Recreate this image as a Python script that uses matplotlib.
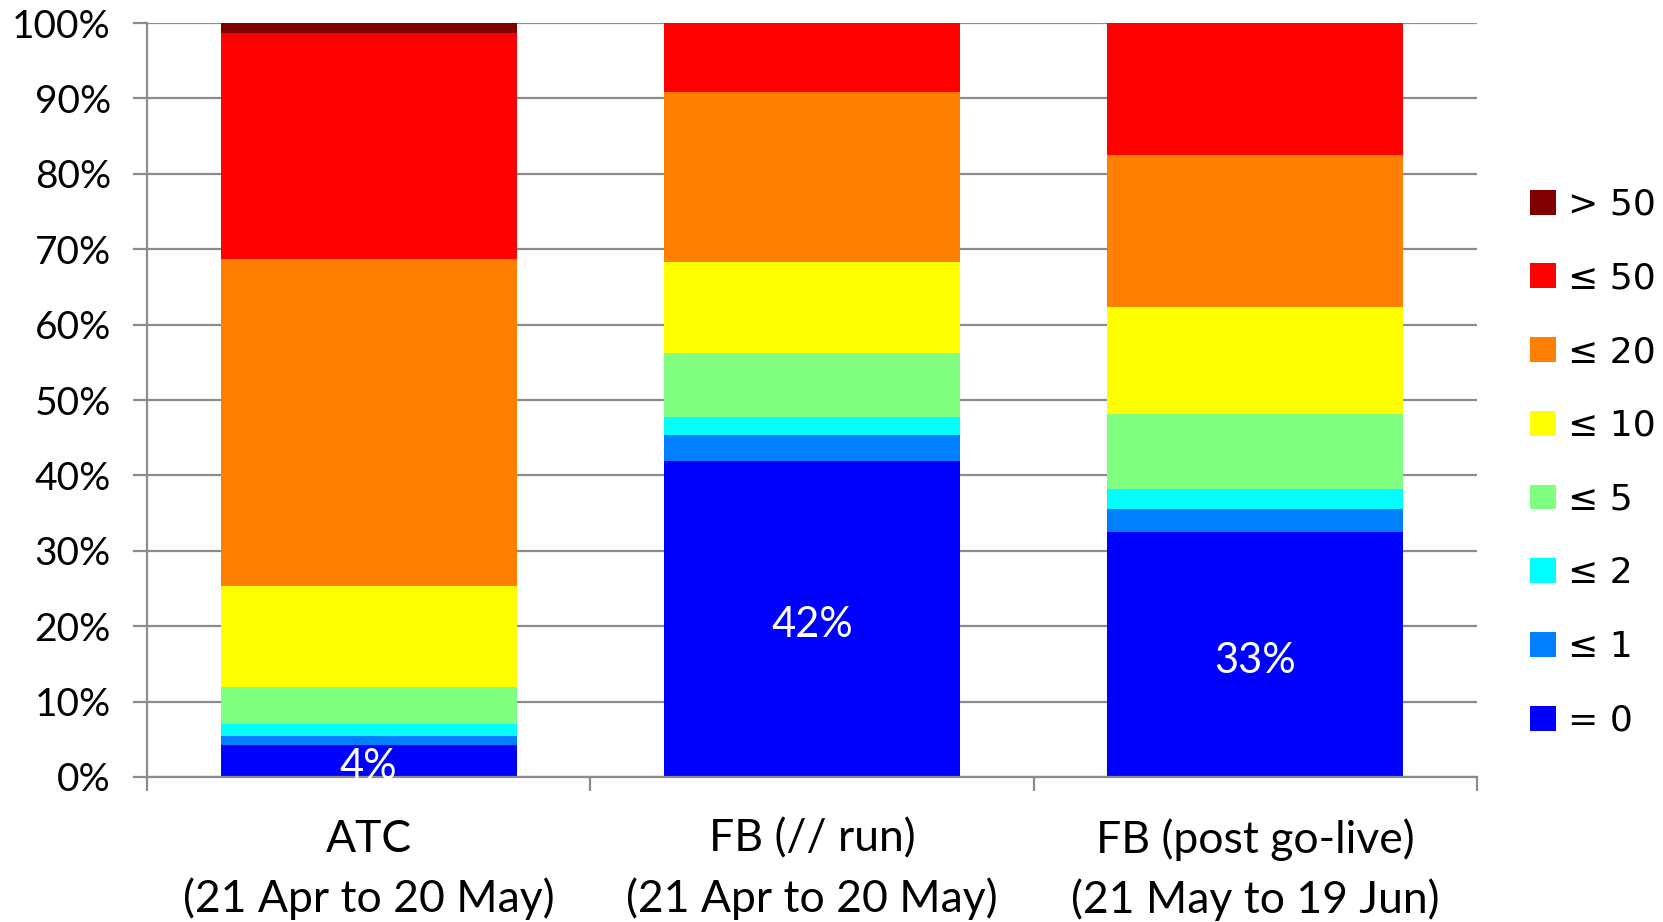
"""Stacked share of delay buckets for ATC vs FB runs."""

import matplotlib.pyplot as plt
import numpy as np
from matplotlib.patches import Patch

categories = [
    "ATC\n(21 Apr to 20 May)",
    "FB (// run)\n(21 Apr to 20 May)",
    "FB (post go-live)\n(21 May to 19 Jun)",
]
buckets = ["= 0", "\u2264 1", "\u2264 2", "\u2264 5", "\u2264 10",
           "\u2264 20", "\u2264 50", "> 50"]
colors = ["#0000FF", "#0080FF", "#00FFFF", "#80FF80", "#FFFF00",
          "#FF8000", "#FF0000", "#800000"]

# percent of items per bucket, per category
share = {
    "= 0":       [4.2, 41.9, 32.5],
    "\u2264 1":  [1.3, 3.4, 3.0],
    "\u2264 2":  [1.5, 2.4, 2.7],
    "\u2264 5":  [4.9, 8.5, 9.9],
    "\u2264 10": [13.4, 12.1, 14.2],
    "\u2264 20": [43.4, 22.6, 20.2],
    "\u2264 50": [30.0, 9.1, 17.5],
    "> 50":      [1.3, 0.0, 0.0],
}
zero_labels = ["4%", "42%", "33%"]

FONT = ["Lato", "DejaVu Sans"]
plt.rcParams["font.family"] = FONT

fig = plt.figure(figsize=(16.63, 9.22), dpi=100)
ax = fig.add_axes([0.0884, 0.1573, 0.7997, 0.8177])

x = np.arange(len(categories))
bottom = np.zeros(len(categories))
for name, col in zip(buckets, colors):
    vals = np.array(share[name])
    ax.bar(x, vals, bottom=bottom, width=0.667, color=col, lw=0,
           zorder=2)
    bottom += vals

for xi, v, lab in zip(x, share["= 0"], zero_labels):
    ax.annotate(lab, (xi, v / 2), xytext=(0, -4.5),
                textcoords="offset points", color="white", ha="center",
                va="center", fontsize=30, zorder=3)

ax.set_xlim(-0.5, 2.5)
ax.set_ylim(0, 100)
ax.set_yticks(np.arange(0, 101, 10))
ax.set_yticklabels([f"{t}%" for t in range(0, 101, 10)])
ax.set_xticks(x)
ax.set_xticklabels(categories, linespacing=1.5)
ax.set_xticks([-0.5, 0.5, 1.5, 2.5], minor=True)

grey = "#8C8C8C"
ax.grid(axis="y", color=grey, lw=1.6, zorder=1)
for side in ("top", "right"):
    ax.spines[side].set_visible(False)
for side in ("left", "bottom"):
    ax.spines[side].set_color(grey)
    ax.spines[side].set_linewidth(1.6)

ax.tick_params(axis="y", length=10, width=1.6, color=grey, pad=16,
               labelsize=28)
ax.tick_params(axis="x", which="major", length=0, pad=30, labelsize=32)
ax.tick_params(axis="x", which="minor", length=10, width=1.6, color=grey)

handles = [Patch(facecolor=c, edgecolor="none", label=b)
           for b, c in zip(buckets[::-1], colors[::-1])]
fig.legend(handles=handles, loc="center left",
           bbox_to_anchor=(0.9115, 0.498), frameon=False,
           prop={"family": ["DejaVu Sans"], "size": 26},
           handlelength=0.72, handleheight=0.68, handletextpad=0.32,
           labelspacing=1.10, borderaxespad=0)

fig.savefig("out.png", dpi=100)
